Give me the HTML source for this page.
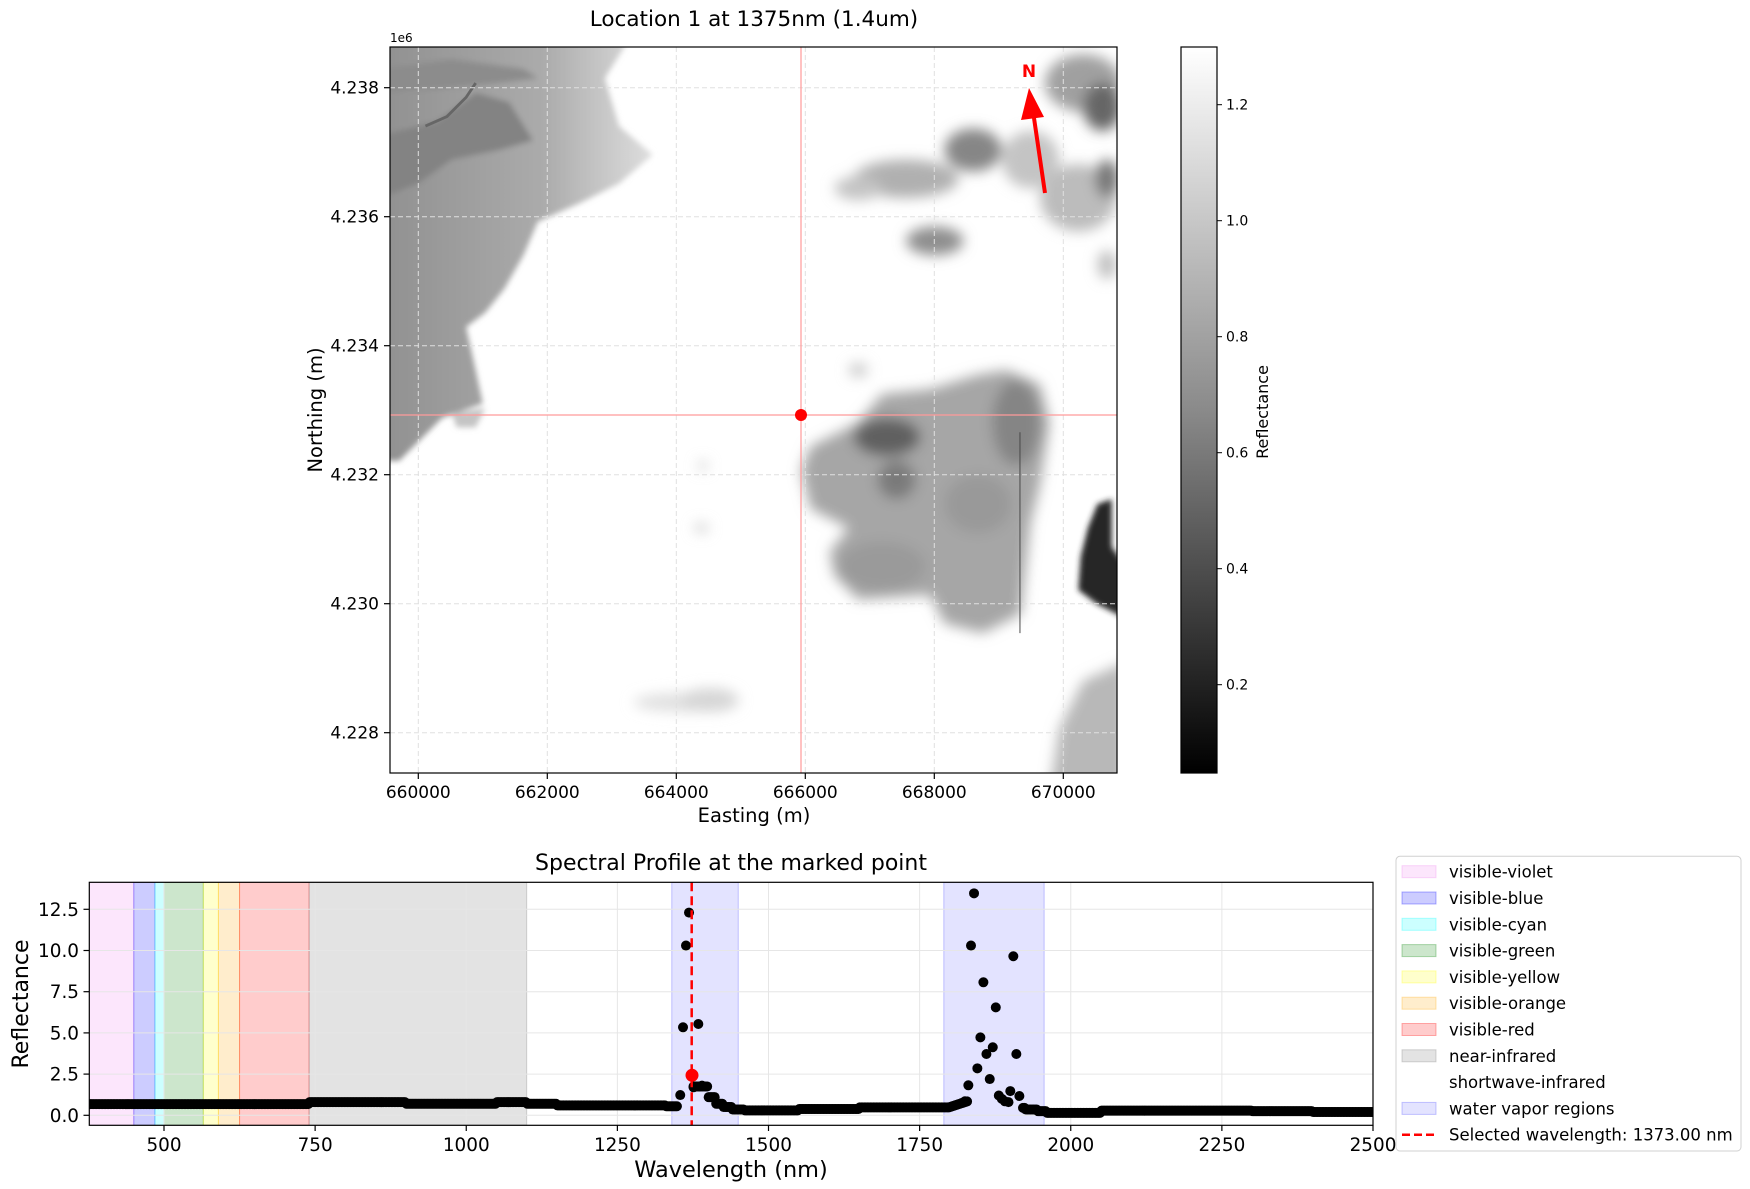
<!DOCTYPE html>
<html><head><meta charset="utf-8">
<style>
html,body{margin:0;padding:0;background:#fff;}
svg{display:block;font-family:"DejaVu Sans","Liberation Sans",sans-serif;}
</style></head>
<body>
<svg id="s" width="1750" height="1189" viewBox="0 0 1750 1189" xmlns="http://www.w3.org/2000/svg">
<defs>
<filter id="b2" x="-30%" y="-30%" width="160%" height="160%"><feGaussianBlur stdDeviation="14"/></filter>
<filter id="b1" x="-20%" y="-20%" width="140%" height="140%"><feGaussianBlur stdDeviation="6"/></filter>
<linearGradient id="lg" x1="0" x2="1" y1="0" y2="0">
<stop offset="0" stop-color="#909090"/><stop offset="0.6" stop-color="#ababab"/><stop offset="1" stop-color="#dedede"/></linearGradient>
<linearGradient id="cb" x1="0" x2="0" y1="0" y2="1">
<stop offset="0" stop-color="#ffffff"/><stop offset="0.5" stop-color="#8a8a8a"/><stop offset="1" stop-color="#000"/></linearGradient>
<clipPath id="mapclip"><rect x="390" y="47" width="727" height="726"/></clipPath>
<clipPath id="spclip"><rect x="89.3" y="882.3" width="1283.7" height="243"/></clipPath>
</defs>

<!-- MAP -->
<g clip-path="url(#mapclip)">
<rect x="390" y="47" width="727" height="726" fill="#fff"/>
<g transform="translate(380,40) scale(0.4783)">
  <g filter="url(#b1)">
  <polygon fill="url(#lg)" points="0,0 520,0 470,80 500,180 570,240 500,300 420,340 330,380 300,450 260,520 220,570 180,600 200,690 215,760 130,790 80,840 40,880 0,880"/>
  <polygon fill="#838383" points="0,200 120,170 200,110 270,130 320,210 250,230 150,250 80,300 0,330"/>
  <polygon fill="#8c8c8c" points="0,60 150,40 300,60 330,80 250,90 150,100 0,110"/>
  <polygon fill="#c4c4c4" points="150,780 220,770 200,810 160,810"/>
  </g>
  <polyline points="95,180 140,160 180,120 200,90" stroke="#666" stroke-width="6" fill="none"/>
  <g filter="url(#b2)" fill="#a8a8a8">
   <ellipse cx="1240" cy="230" rx="60" ry="45" fill="#868686"/>
   <ellipse cx="1100" cy="290" rx="110" ry="40" fill="#b0b0b0"/>
   <ellipse cx="1000" cy="310" rx="50" ry="25" fill="#c4c4c4"/>
   <ellipse cx="1160" cy="420" rx="60" ry="30" fill="#8e8e8e"/>
   <ellipse cx="1470" cy="90" rx="80" ry="60" fill="#a0a0a0"/>
   <ellipse cx="1510" cy="140" rx="40" ry="50" fill="#666"/>
   <ellipse cx="1460" cy="330" rx="80" ry="70" fill="#bcbcbc"/>
   <ellipse cx="1360" cy="250" rx="60" ry="60" fill="#c4c4c4"/>
   <ellipse cx="1520" cy="290" rx="25" ry="40" fill="#777"/>
   <ellipse cx="1520" cy="470" rx="20" ry="30" fill="#c0c0c0"/>
   <ellipse cx="1000" cy="690" rx="20" ry="15" fill="#ccc"/>
   <polygon fill="#a6a6a6" points="900,850 1000,800 1050,740 1150,730 1250,700 1310,690 1380,720 1400,800 1380,930 1360,1010 1340,1200 1260,1240 1180,1220 1150,1160 1000,1170 950,1120 940,1070 980,1020 900,980 880,900"/>
   <ellipse cx="1060" cy="830" rx="70" ry="40" fill="#606060"/>
   <ellipse cx="1080" cy="920" rx="40" ry="40" fill="#7a7a7a"/>
   <ellipse cx="1330" cy="800" rx="50" ry="90" fill="#858585"/>
   <ellipse cx="1250" cy="970" rx="70" ry="60" fill="#999"/>
   <ellipse cx="1050" cy="1100" rx="90" ry="50" fill="#9a9a9a"/>
   <polygon fill="#b8b8b8" points="1560,1300 1470,1340 1420,1440 1400,1570 1560,1570"/>
   <ellipse cx="640" cy="1385" rx="110" ry="20" fill="#e0e0e0"/>
   <ellipse cx="690" cy="1380" rx="60" ry="25" fill="#d6d6d6"/>
   <ellipse cx="675" cy="890" rx="10" ry="10" fill="#d0d0d0"/>
   <ellipse cx="672" cy="1020" rx="15" ry="10" fill="#d0d0d0"/>
  </g>
  <g filter="url(#b1)">
   <polygon fill="#262626" points="1500,970 1530,960 1530,1060 1560,1100 1560,1210 1500,1180 1460,1150 1465,1080 1480,1020"/>
  </g>
  <line x1="1338" y1="820" x2="1338" y2="1240" stroke="#444" stroke-width="2"/>
</g>
</g>
<g id="mapgrid" stroke="#e0e0e0" stroke-dasharray="5,3" stroke-width="1"></g>
<line x1="801" y1="47" x2="801" y2="773" stroke="#ff9a9a" stroke-width="1.2"/>
<line x1="390" y1="415" x2="1117" y2="415" stroke="#ff9a9a" stroke-width="1.2"/>
<circle cx="801" cy="415" r="6" fill="#ff0000"/>
<line x1="1045" y1="193" x2="1034" y2="118" stroke="#ff0000" stroke-width="4"/>
<polygon points="1029,88 1021,120 1044,117" fill="#ff0000"/>
<text x="1029" y="77" fill="#ff0000" font-size="17" font-weight="bold" text-anchor="middle">N</text>
<rect x="390" y="47" width="727" height="726" fill="none" stroke="#000" stroke-width="1.2"/>
<g id="mapticks" font-size="17" fill="#000"></g>
<text x="390" y="42" font-size="12">1e6</text>
<text x="754" y="26" font-size="21.5" text-anchor="middle">Location 1 at 1375nm (1.4um)</text>
<text x="754" y="822" font-size="19.5" text-anchor="middle">Easting (m)</text>
<text transform="translate(322,410) rotate(-90)" font-size="19.5" text-anchor="middle">Northing (m)</text>

<rect x="1181" y="47" width="36" height="726" fill="url(#cb)" stroke="#000" stroke-width="1.2"/>
<g id="cbticks" font-size="14"></g>
<text transform="translate(1268,412) rotate(-90)" font-size="16" text-anchor="middle">Reflectance</text>

<text x="731" y="870" font-size="22" text-anchor="middle">Spectral Profile at the marked point</text>
<g id="bands" clip-path="url(#spclip)"></g>
<g id="spgrid" stroke="#e6e6e6" stroke-width="1"></g>
<g id="dots" clip-path="url(#spclip)"></g>
<line x1="691.7" y1="882.3" x2="691.7" y2="1125.3" stroke="#ff0000" stroke-width="2.5" stroke-dasharray="9,5"/>
<circle cx="692" cy="1075.3" r="6.5" fill="#ff0000"/>
<rect x="89.3" y="882.3" width="1283.7" height="243" fill="none" stroke="#000" stroke-width="1.2"/>
<g id="spticks" font-size="18.4"></g>
<text x="731" y="1177" font-size="22.4" text-anchor="middle">Wavelength (nm)</text>
<text transform="translate(28,1004) rotate(-90)" font-size="22" text-anchor="middle">Reflectance</text>

<g id="legend">
<rect x="1396" y="856.3" width="345" height="294.7" rx="4" fill="#fff" fill-opacity="0.85" stroke="#d0d0d0" stroke-width="1"/>
</g>
</svg>
<script>
var NS="http://www.w3.org/2000/svg";
function el(p,t,a,txt){var e=document.createElementNS(NS,t);for(var k in a)e.setAttribute(k,a[k]);if(txt!=null)e.textContent=txt;document.getElementById(p).appendChild(e);return e;}
for(var k=0;k<=5;k++){var x=418.3+k*129;var v=660000+k*2000;
 el("mapgrid","line",{x1:x,y1:47,x2:x,y2:773});
 el("mapticks","line",{x1:x,y1:773,x2:x,y2:779,stroke:"#000","stroke-width":1.2});
 el("mapticks","text",{x:x,y:798,"text-anchor":"middle"},String(v));}
for(var k=0;k<=5;k++){var y=732.7-k*129;var v=(4.228+k*0.002).toFixed(3);
 el("mapgrid","line",{x1:390,y1:y,x2:1117,y2:y});
 el("mapticks","line",{x1:384,y1:y,x2:390,y2:y,stroke:"#000","stroke-width":1.2});
 el("mapticks","text",{x:379,y:y+6,"text-anchor":"end"},v);}
for(var k=1;k<=6;k++){var y=104.7+(6-k)*116;
 el("cbticks","line",{x1:1217,y1:y,x2:1222,y2:y,stroke:"#000","stroke-width":1});
 el("cbticks","text",{x:1226,y:y+5},(k*0.2).toFixed(1));}
function X(w){return 164+(w-500)*0.6045;}
function Y(v){return 1115.3-v*16.48;}
var bands=[[376,450,"#ee82ee",0.2],[450,485,"#0000ff",0.2],[485,500,"#00ffff",0.2],[500,565,"#008000",0.2],[565,590,"#ffff00",0.2],[590,625,"#ffa500",0.2],[625,740,"#ff0000",0.2],[740,1100,"#808080",0.22],[1340,1450,"#0000ff",0.11],[1790,1956,"#0000ff",0.11]];
bands.forEach(function(b){el("bands","rect",{x:X(b[0]),y:882.3,width:X(b[1])-X(b[0]),height:243,fill:b[2],"fill-opacity":b[3],stroke:b[2],"stroke-opacity":b[3]+0.1});});
for(var w=500;w<=2500;w+=250){var x=X(w);
 el("spgrid","line",{x1:x,y1:882.3,x2:x,y2:1125.3});
 el("spticks","line",{x1:x,y1:1125.3,x2:x,y2:1131,stroke:"#000","stroke-width":1.2});
 el("spticks","text",{x:x,y:1151,"text-anchor":"middle"},String(w));}
for(var k=0;k<=5;k++){var v=k*2.5,y=Y(v);
 el("spgrid","line",{x1:89.3,y1:y,x2:1373,y2:y});
 el("spticks","line",{x1:83.5,y1:y,x2:89.3,y2:y,stroke:"#000","stroke-width":1.2});
 el("spticks","text",{x:79,y:y+6.5,"text-anchor":"end"},v.toFixed(1));}
function base(w){
 if(w<740)return 0.68; if(w<900)return 0.8; if(w<1050)return 0.7; if(w<1100)return 0.8;
 if(w<1150)return 0.7; if(w<1330)return 0.6; if(w<1350)return 0.55;
 if(w<1400)return 1.75; if(w<1412)return 1.1; if(w<1425)return 0.7; if(w<1440)return 0.5;
 if(w<1460)return 0.35; if(w<1550)return 0.3; if(w<1650)return 0.38; if(w<1800)return 0.48;
 if(w<1830)return 0.5+(w-1800)*0.012; if(w<1915)return 1.0; if(w<1925)return 0.45; if(w<1945)return 0.35;
 if(w<1960)return 0.25; if(w<2050)return 0.15; if(w<2300)return 0.28; if(w<2400)return 0.25; return 0.2;}
for(var w=376;w<=2500;w+=2.5){
 if(w>1350&&w<1376)continue;
 if(w>=1830&&w<1920)continue;
 el("dots","circle",{cx:X(w),cy:Y(base(w)),r:5,fill:"#000"});}
var pk=[[1354,1.23],[1358.6,5.34],[1363.5,10.3],[1368.5,12.3],[1383.9,5.54],[1376,1.7],[1380,1.75],[1386,1.75],[1390,1.8],
[1830.6,1.82],[1835,10.3],[1840,13.47],[1845.5,2.85],[1850.5,4.73],[1855.5,8.07],[1860.5,3.72],[1866,2.2],[1871,4.13],[1876,6.55],
[1881,1.2],[1886,1.0],[1891,0.85],[1897,0.8],[1900,1.47],[1905,9.65],[1910,3.72],[1915,1.17],[1825,0.85],[1820,0.75]];
pk.forEach(function(p){el("dots","circle",{cx:X(p[0]),cy:Y(p[1]),r:5,fill:"#000"});});
var L=[["visible-violet","#ee82ee",0.2],["visible-blue","#0000ff",0.2],["visible-cyan","#00ffff",0.2],["visible-green","#008000",0.2],["visible-yellow","#ffff00",0.2],["visible-orange","#ffa500",0.2],["visible-red","#ff0000",0.2],["near-infrared","#808080",0.22],["shortwave-infrared",null,0],["water vapor regions","#0000ff",0.11],["Selected wavelength: 1373.00 nm","line",0]];
L.forEach(function(l,i){var y=871.7+i*26.3;
 if(l[1]==="line")el("legend","line",{x1:1402,y1:y,x2:1436,y2:y,stroke:"#ff0000","stroke-width":2.5,"stroke-dasharray":"8,4"});
 else if(l[1])el("legend","rect",{x:1402,y:y-6,width:34,height:12,fill:l[1],"fill-opacity":l[2],stroke:l[1],"stroke-opacity":l[2]+0.1});
 el("legend","text",{x:1449,y:y+6,"font-size":16.5},l[0]);});
</script>
</body></html>
